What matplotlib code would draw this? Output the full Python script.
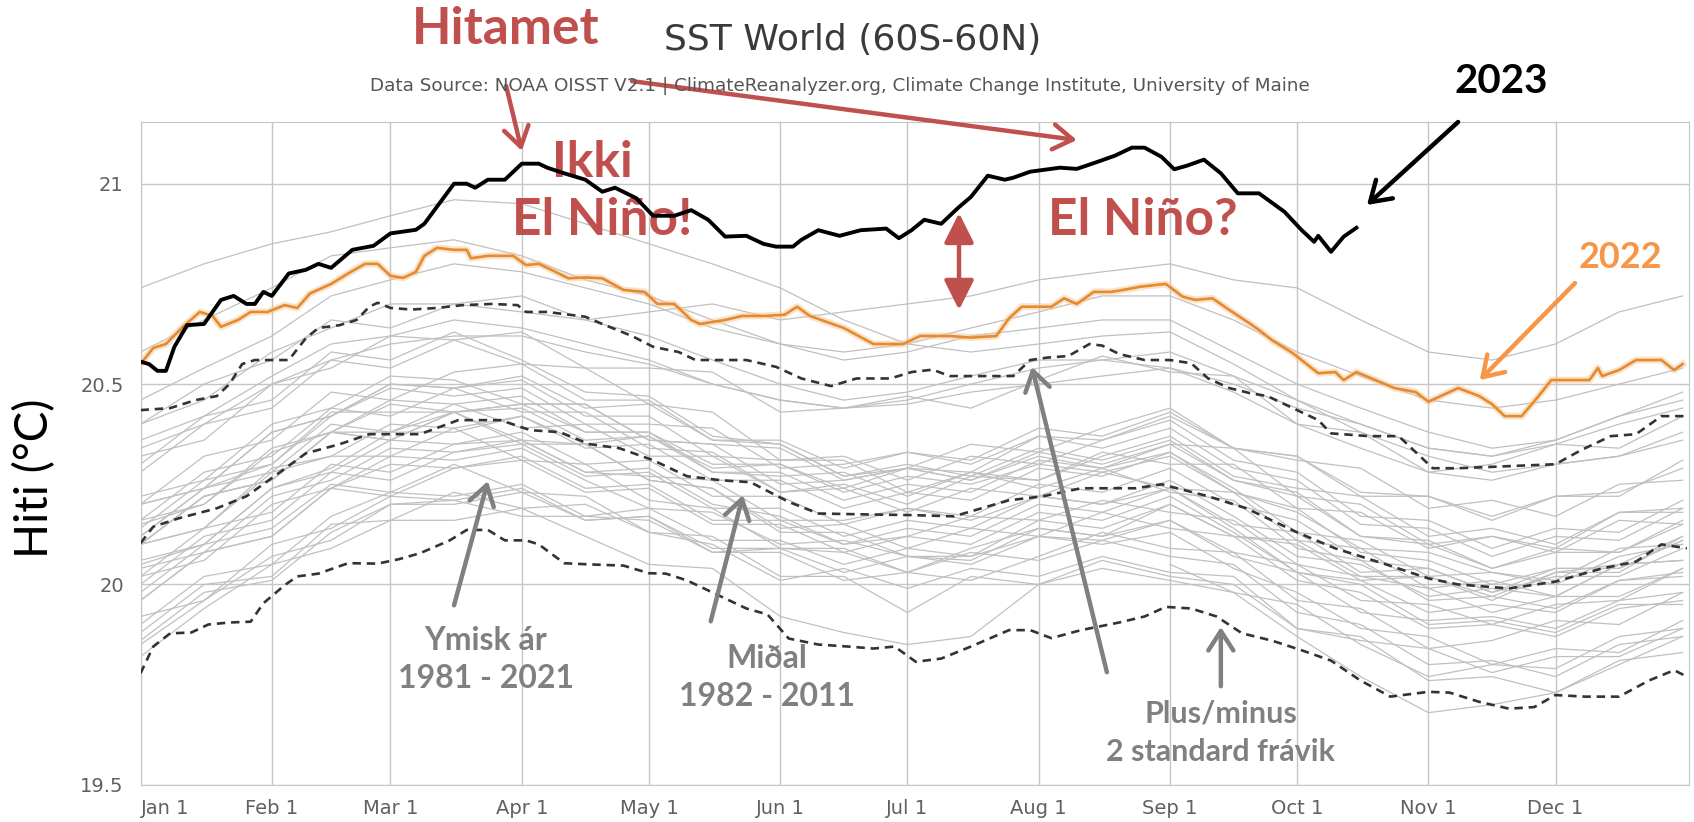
import numpy as np
import matplotlib.pyplot as plt

# ---- data (day of year, deg C) ----
month_days = [0, 31, 59, 90, 120, 151, 181, 212, 243, 273, 304, 334]
month_labels = ["Jan 1", "Feb 1", "Mar 1", "Apr 1", "May 1", "Jun 1",
                "Jul 1", "Aug 1", "Sep 1", "Oct 1", "Nov 1", "Dec 1"]

days_2023 = [0, 2, 4, 6, 8, 11, 15, 19, 22, 25, 27, 29, 31, 35, 39, 42, 45, 50, 55, 59,
             65, 67, 70, 74, 77, 79, 82, 86, 90, 94, 96, 100, 105, 109, 112, 117, 121,
             126, 130, 134, 138, 143, 147, 150, 154, 156, 160, 165, 170, 176, 179, 182,
             185, 189, 193, 196, 200, 204, 206, 210, 217, 221, 226, 230, 234, 237, 241,
             244, 247, 251, 255, 259, 264, 270, 274, 277, 278, 281, 284, 287]
sst_2023 = [20.556, 20.55, 20.533, 20.533, 20.593, 20.647, 20.65, 20.71, 20.72, 20.70,
            20.70, 20.73, 20.72, 20.776, 20.785, 20.80, 20.79, 20.835, 20.845, 20.876,
            20.885, 20.90, 20.943, 21.00, 21.00, 20.99, 21.01, 21.01, 21.05, 21.05,
            21.04, 21.026, 21.01, 20.98, 20.99, 20.964, 20.92, 20.92, 20.934, 20.91,
            20.868, 20.87, 20.85, 20.843, 20.843, 20.86, 20.884, 20.87, 20.884, 20.888,
            20.864, 20.884, 20.91, 20.90, 20.94, 20.967, 21.02, 21.01, 21.015, 21.03,
            21.04, 21.037, 21.055, 21.07, 21.09, 21.09, 21.067, 21.036, 21.045, 21.06,
            21.026, 20.976, 20.976, 20.93, 20.885, 20.855, 20.87, 20.83, 20.868, 20.89]

days_2022 = [0, 3, 6, 10, 14, 17, 19, 23, 26, 30, 34, 37, 40, 45, 49, 53, 56, 59, 62, 65,
             67, 70, 74, 77, 78, 82, 88, 91, 94, 97, 101, 105, 109, 114, 119, 122, 126,
             130, 132, 138, 142, 147, 152, 155, 158, 162, 166, 173, 176, 180, 184, 191,
             196, 202, 205, 208, 215, 218, 221, 225, 229, 232, 236, 242, 246, 249, 253,
             257, 262, 264, 267, 272, 278, 282, 284, 287, 296, 301, 304, 311, 316, 319,
             322, 326, 330, 333, 335, 342, 344, 345, 349, 353, 359, 362, 364]
sst_2022 = [20.55, 20.59, 20.60, 20.643, 20.68, 20.67, 20.643, 20.66, 20.68, 20.68,
            20.697, 20.69, 20.726, 20.75, 20.776, 20.80, 20.80, 20.77, 20.765, 20.78,
            20.82, 20.84, 20.835, 20.835, 20.814, 20.82, 20.82, 20.797, 20.80, 20.785,
            20.764, 20.766, 20.764, 20.735, 20.73, 20.70, 20.70, 20.66, 20.65, 20.66,
            20.67, 20.67, 20.673, 20.693, 20.67, 20.655, 20.64, 20.60, 20.60, 20.60,
            20.62, 20.62, 20.616, 20.62, 20.664, 20.693, 20.693, 20.714, 20.70, 20.73,
            20.73, 20.735, 20.743, 20.75, 20.718, 20.71, 20.714, 20.685, 20.65, 20.635,
            20.61, 20.577, 20.527, 20.53, 20.51, 20.53, 20.49, 20.48, 20.456, 20.49,
            20.47, 20.45, 20.42, 20.42, 20.47, 20.51, 20.51, 20.51, 20.54, 20.52,
            20.535, 20.56, 20.56, 20.535, 20.55]

days_mean = [0, 3, 9, 18, 25, 32, 39, 47, 54, 66, 75, 85, 92, 99, 106, 113, 121, 129,
             137, 144, 153, 160, 170, 182, 192, 205, 213, 222, 235, 241, 252, 261, 273,
             282, 294, 304, 311, 323, 334, 345, 353, 359, 365]
sst_mean = [20.103, 20.144, 20.165, 20.19, 20.22, 20.273, 20.327, 20.35, 20.375, 20.375,
            20.41, 20.41, 20.385, 20.38, 20.35, 20.34, 20.31, 20.27, 20.26, 20.255,
            20.206, 20.177, 20.175, 20.173, 20.17, 20.21, 20.22, 20.24, 20.24, 20.25,
            20.22, 20.19, 20.13, 20.09, 20.05, 20.015, 20.00, 19.99, 20.007, 20.04,
            20.057, 20.10, 20.09]

days_plus = [0, 7, 13, 18, 21, 24, 27, 35, 39, 42, 47, 51, 54, 56, 59, 64, 70, 76, 83,
             89, 91, 96, 105, 109, 116, 121, 127, 131, 138, 143, 150, 156, 163, 169, 177,
             182, 187, 191, 200, 206, 210, 214, 219, 224, 227, 231, 237, 243, 248, 252,
             257, 262, 266, 272, 278, 281, 290, 297, 300, 305, 311, 334, 340, 347, 353,
             359, 365]
sst_plus = [20.435, 20.44, 20.46, 20.47, 20.50, 20.55, 20.56, 20.56, 20.614, 20.64,
            20.647, 20.66, 20.693, 20.703, 20.69, 20.686, 20.69, 20.697, 20.70, 20.697,
            20.68, 20.68, 20.668, 20.65, 20.62, 20.593, 20.58, 20.56, 20.56, 20.56,
            20.543, 20.514, 20.495, 20.514, 20.514, 20.53, 20.536, 20.52, 20.52, 20.52,
            20.56, 20.566, 20.57, 20.60, 20.596, 20.575, 20.56, 20.56, 20.552, 20.514,
            20.49, 20.477, 20.47, 20.44, 20.41, 20.377, 20.37, 20.37, 20.34, 20.29,
            20.29, 20.30, 20.335, 20.37, 20.375, 20.42, 20.42]

days_minus = [0, 3, 7, 12, 16, 21, 26, 29, 34, 37, 42, 49, 56, 61, 66, 73, 77, 82, 86,
              91, 94, 100, 106, 114, 120, 124, 129, 133, 137, 143, 148, 153, 160, 167,
              173, 178, 183, 189, 196, 205, 210, 215, 222, 231, 237, 242, 248, 254, 260,
              267, 274, 281, 288, 295, 304, 309, 316, 323, 329, 334, 341, 349, 356, 362,
              365]
sst_minus = [19.778, 19.845, 19.878, 19.88, 19.90, 19.905, 19.907, 19.953, 19.998, 20.02,
             20.027, 20.053, 20.052, 20.063, 20.078, 20.11, 20.136, 20.136, 20.11, 20.11,
             20.10, 20.053, 20.05, 20.047, 20.028, 20.027, 20.01, 19.99, 19.97, 19.94,
             19.925, 19.865, 19.85, 19.845, 19.84, 19.845, 19.807, 19.815, 19.845,
             19.886, 19.886, 19.866, 19.886, 19.905, 19.92, 19.944, 19.94, 19.92, 19.878,
             19.86, 19.836, 19.81, 19.76, 19.72, 19.732, 19.73, 19.707, 19.69, 19.694,
             19.724, 19.72, 19.72, 19.76, 19.786, 19.77]

# other years 1981-2021, estimated about every 15 days
days_years = [0, 15, 31, 45, 59, 74, 90, 105, 120, 135, 151, 166, 181, 196, 212, 227,
              243, 258, 273, 288, 304, 319, 334, 349, 364]
sst_years = [
    [None] * 16 + [20.05, 19.98, 19.95, 19.85, 19.77, 19.80, 19.79, 19.87, 19.89],
    [19.85, 19.96, 20.07, 20.11, 20.20, 20.21, 20.17, 20.17, 20.16, 20.08, 20.09, 20.08, 20.03, 20.09, 20.14, 20.12, 20.20, 20.12, 20.11, 20.02, 20.02, 19.97, 20.03, 20.05, 20.12],
    [20.15, 20.20, 20.33, 20.38, 20.38, 20.43, 20.36, 20.35, 20.26, 20.24, 20.13, 20.13, 20.07, 20.07, 20.12, 20.10, 20.13, 20.04, 19.98, 19.89, 19.87, 19.80, 19.84, 19.83, 19.91],
    [19.88, 20.00, 20.02, 20.15, 20.16, 20.23, 20.19, 20.20, 20.13, 20.10, 20.01, 20.04, 19.99, 20.04, 20.02, 20.07, 20.03, 20.02, 19.89, 19.87, 19.76, 19.77, 19.73, 19.81, 19.83],
    [19.82, 19.94, 20.05, 20.09, 20.16, 20.16, 20.19, 20.12, 20.05, 20.04, 19.92, 19.88, 19.85, 19.87, 20.00, 20.04, 20.01, 19.98, 19.87, 19.77, 19.68, 19.70, 19.73, 19.80, 19.87],
    [19.90, 20.02, 20.05, 20.17, 20.23, 20.22, 20.25, 20.17, 20.19, 20.11, 20.11, 20.05, 20.09, 20.07, 20.16, 20.14, 20.20, 20.12, 20.10, 20.01, 20.02, 19.96, 20.03, 20.03, 20.12],
    [20.12, 20.24, 20.30, 20.43, 20.43, 20.43, 20.45, 20.38, 20.38, 20.30, 20.30, 20.23, 20.27, 20.25, 20.30, 20.28, 20.32, 20.23, 20.18, 20.09, 20.08, 20.03, 20.01, 20.09, 20.10],
    [20.10, 20.14, 20.29, 20.32, 20.32, 20.39, 20.31, 20.30, 20.21, 20.19, 20.09, 20.09, 20.03, 20.08, 20.06, 20.11, 20.07, 20.05, 19.93, 19.90, 19.80, 19.81, 19.77, 19.85, 19.87],
    [19.86, 19.98, 20.01, 20.13, 20.20, 20.20, 20.23, 20.16, 20.17, 20.09, 20.09, 20.03, 20.07, 20.06, 20.14, 20.12, 20.16, 20.07, 20.03, 19.93, 19.91, 19.92, 19.89, 19.96, 19.98],
    [20.04, 20.08, 20.22, 20.26, 20.34, 20.33, 20.36, 20.28, 20.29, 20.20, 20.17, 20.10, 20.12, 20.17, 20.16, 20.21, 20.18, 20.16, 20.05, 20.02, 19.99, 19.93, 19.97, 19.97, 20.04],
    [20.02, 20.14, 20.18, 20.30, 20.28, 20.35, 20.36, 20.28, 20.27, 20.26, 20.16, 20.16, 20.19, 20.16, 20.22, 20.20, 20.24, 20.14, 20.03, 20.00, 19.90, 19.91, 19.88, 19.95, 19.95],
    [19.98, 20.10, 20.14, 20.25, 20.23, 20.30, 20.23, 20.22, 20.13, 20.12, 20.02, 20.02, 19.93, 20.02, 20.00, 20.06, 20.02, 20.00, 19.89, 19.86, 19.84, 19.78, 19.82, 19.82, 19.89],
    [19.92, 19.96, 20.10, 20.14, 20.22, 20.21, 20.24, 20.16, 20.17, 20.08, 20.08, 20.01, 20.03, 20.01, 20.07, 20.13, 20.09, 20.08, 19.96, 19.94, 19.84, 19.86, 19.91, 19.90, 19.98],
    [19.96, 20.08, 20.12, 20.24, 20.30, 20.29, 20.32, 20.24, 20.25, 20.16, 20.16, 20.10, 20.14, 20.12, 20.20, 20.18, 20.24, 20.15, 20.13, 20.03, 20.04, 19.98, 20.04, 20.04, 20.11],
    [20.10, 20.22, 20.26, 20.38, 20.36, 20.43, 20.35, 20.35, 20.26, 20.24, 20.14, 20.15, 20.09, 20.14, 20.12, 20.18, 20.14, 20.12, 20.01, 19.98, 19.89, 19.90, 19.87, 19.94, 19.96],
    [19.96, 20.08, 20.12, 20.24, 20.22, 20.29, 20.31, 20.23, 20.24, 20.15, 20.15, 20.08, 20.12, 20.10, 20.18, 20.16, 20.22, 20.13, 20.03, 20.01, 19.93, 19.95, 19.93, 20.01, 20.02],
    [20.05, 20.10, 20.24, 20.29, 20.38, 20.38, 20.42, 20.35, 20.37, 20.29, 20.30, 20.24, 20.29, 20.28, 20.37, 20.36, 20.42, 20.34, 20.32, 20.23, 20.22, 20.17, 20.22, 20.23, 20.29],
    [20.32, 20.36, 20.50, 20.54, 20.62, 20.61, 20.55, 20.54, 20.45, 20.43, 20.31, 20.31, 20.23, 20.28, 20.24, 20.29, 20.23, 20.21, 20.09, 20.06, 19.96, 19.97, 19.94, 20.01, 20.03],
    [20.02, 20.06, 20.20, 20.24, 20.32, 20.31, 20.34, 20.26, 20.19, 20.18, 20.10, 20.11, 20.07, 20.05, 20.12, 20.11, 20.16, 20.08, 20.05, 19.96, 19.95, 19.90, 19.95, 19.96, 20.04],
    [20.00, 20.12, 20.16, 20.28, 20.26, 20.33, 20.35, 20.27, 20.28, 20.19, 20.19, 20.12, 20.16, 20.14, 20.22, 20.20, 20.26, 20.17, 20.07, 20.05, 19.97, 19.99, 19.97, 20.05, 20.06],
    [20.10, 20.22, 20.26, 20.38, 20.36, 20.43, 20.44, 20.36, 20.37, 20.28, 20.28, 20.21, 20.25, 20.23, 20.31, 20.29, 20.35, 20.26, 20.22, 20.12, 20.10, 20.04, 20.08, 20.08, 20.15],
    [20.16, 20.28, 20.32, 20.44, 20.42, 20.49, 20.51, 20.42, 20.42, 20.32, 20.31, 20.32, 20.26, 20.32, 20.30, 20.36, 20.41, 20.31, 20.28, 20.17, 20.16, 20.09, 20.14, 20.13, 20.21],
    [20.22, 20.26, 20.40, 20.44, 20.52, 20.51, 20.45, 20.45, 20.36, 20.35, 20.25, 20.26, 20.29, 20.26, 20.33, 20.30, 20.35, 20.34, 20.22, 20.20, 20.10, 20.12, 20.08, 20.16, 20.15],
    [20.16, 20.20, 20.34, 20.38, 20.46, 20.45, 20.39, 20.40, 20.32, 20.32, 20.23, 20.25, 20.20, 20.27, 20.26, 20.33, 20.30, 20.30, 20.19, 20.18, 20.09, 20.12, 20.09, 20.18, 20.18],
    [20.20, 20.32, 20.36, 20.48, 20.46, 20.53, 20.55, 20.46, 20.46, 20.36, 20.35, 20.27, 20.30, 20.27, 20.34, 20.31, 20.36, 20.26, 20.23, 20.12, 20.11, 20.04, 20.09, 20.08, 20.16],
    [20.12, 20.24, 20.28, 20.40, 20.38, 20.45, 20.47, 20.38, 20.38, 20.28, 20.27, 20.28, 20.22, 20.28, 20.26, 20.32, 20.37, 20.27, 20.24, 20.22, 20.12, 20.14, 20.10, 20.18, 20.19],
    [20.20, 20.24, 20.38, 20.42, 20.50, 20.49, 20.43, 20.43, 20.34, 20.33, 20.23, 20.24, 20.18, 20.24, 20.22, 20.28, 20.24, 20.23, 20.11, 20.09, 19.99, 20.01, 19.97, 20.05, 20.06],
    [20.06, 20.10, 20.24, 20.28, 20.36, 20.35, 20.38, 20.30, 20.31, 20.22, 20.22, 20.15, 20.19, 20.17, 20.25, 20.23, 20.29, 20.20, 20.16, 20.06, 20.04, 19.98, 20.02, 20.02, 20.09],
    [20.10, 20.22, 20.26, 20.38, 20.45, 20.43, 20.45, 20.45, 20.36, 20.35, 20.34, 20.26, 20.29, 20.35, 20.33, 20.39, 20.44, 20.34, 20.31, 20.29, 20.19, 20.21, 20.17, 20.25, 20.26],
    [20.30, 20.42, 20.46, 20.58, 20.56, 20.63, 20.56, 20.48, 20.47, 20.37, 20.35, 20.27, 20.29, 20.26, 20.32, 20.29, 20.33, 20.23, 20.19, 20.08, 20.06, 20.00, 20.04, 20.04, 20.11],
    [20.10, 20.14, 20.28, 20.32, 20.40, 20.39, 20.42, 20.34, 20.35, 20.26, 20.26, 20.19, 20.23, 20.21, 20.29, 20.27, 20.33, 20.24, 20.13, 20.11, 20.02, 20.03, 20.00, 20.07, 20.10],
    [20.14, 20.26, 20.30, 20.42, 20.49, 20.47, 20.49, 20.40, 20.40, 20.39, 20.29, 20.30, 20.33, 20.30, 20.37, 20.34, 20.39, 20.29, 20.26, 20.15, 20.14, 20.07, 20.12, 20.11, 20.19],
    [20.20, 20.24, 20.38, 20.42, 20.50, 20.49, 20.52, 20.44, 20.45, 20.36, 20.36, 20.29, 20.33, 20.31, 20.39, 20.37, 20.43, 20.34, 20.32, 20.22, 20.22, 20.16, 20.22, 20.22, 20.31],
    [20.28, 20.40, 20.44, 20.56, 20.54, 20.61, 20.63, 20.54, 20.54, 20.53, 20.43, 20.44, 20.47, 20.44, 20.51, 20.57, 20.53, 20.52, 20.40, 20.38, 20.28, 20.30, 20.35, 20.34, 20.42],
    [20.40, 20.50, 20.56, 20.66, 20.64, 20.70, 20.72, 20.66, 20.68, 20.70, 20.66, 20.68, 20.70, 20.72, 20.76, 20.78, 20.80, 20.76, 20.74, 20.66, 20.58, 20.56, 20.60, 20.68, 20.72],
    [20.74, 20.80, 20.85, 20.88, 20.92, 20.96, 20.95, 20.90, 20.85, 20.80, 20.74, 20.66, 20.60, 20.58, 20.60, 20.62, 20.63, 20.55, 20.46, 20.38, 20.32, 20.28, 20.30, 20.32, 20.36],
    [20.40, 20.46, 20.58, 20.64, 20.70, 20.70, 20.68, 20.66, 20.62, 20.56, 20.50, 20.46, 20.48, 20.52, 20.56, 20.56, 20.54, 20.48, 20.40, 20.34, 20.28, 20.26, 20.30, 20.32, 20.38],
    [20.34, 20.40, 20.50, 20.56, 20.60, 20.62, 20.62, 20.58, 20.55, 20.50, 20.46, 20.44, 20.45, 20.48, 20.50, 20.52, 20.54, 20.50, 20.44, 20.40, 20.34, 20.32, 20.35, 20.40, 20.44],
    [20.46, 20.54, 20.62, 20.72, 20.76, 20.80, 20.78, 20.74, 20.70, 20.64, 20.60, 20.58, 20.60, 20.64, 20.68, 20.72, 20.72, 20.66, 20.58, 20.52, 20.46, 20.44, 20.46, 20.50, 20.54],
    [20.58, 20.66, 20.74, 20.82, 20.84, 20.86, 20.82, 20.76, 20.72, 20.66, 20.60, 20.56, 20.58, 20.62, 20.64, 20.66, 20.66, 20.58, 20.50, 20.44, 20.38, 20.34, 20.36, 20.42, 20.46],
    [20.36, 20.42, 20.52, 20.60, 20.62, 20.66, 20.64, 20.60, 20.56, 20.50, 20.46, 20.44, 20.46, 20.50, 20.54, 20.56, 20.58, 20.52, 20.46, 20.40, 20.34, 20.32, 20.36, 20.42, 20.48],
]

# ---- figure ----
W, H = 1694, 822
fig = plt.figure(figsize=(W / 100, H / 100), dpi=100)
ax = fig.add_axes([140.5 / W, 1 - 784.8 / H, (1689 - 140.5) / W, (784.8 - 122) / H])

for row in sst_years:
    ax.plot(days_years, np.array(row, dtype=float), color="#c0c0c0", lw=0.9, zorder=2)

dash = (0, (3.2, 2.2))
ax.plot(days_plus, sst_plus, color="#333333", lw=1.9, ls=dash, zorder=3)
ax.plot(days_mean, sst_mean, color="#333333", lw=1.9, ls=dash, zorder=3)
ax.plot(days_minus, sst_minus, color="#333333", lw=1.9, ls=dash, zorder=3)

ax.plot(days_2022, sst_2022, color="#f6c99a", lw=5, alpha=0.5, zorder=4)
ax.plot(days_2022, sst_2022, color="#e58a2e", lw=1.9, zorder=5)
ax.plot(days_2023, sst_2023, color="black", lw=2.8, zorder=6)

ax.set_xlim(0, 365.5)
ax.set_ylim(19.5, 21.154)
ax.set_xticks(month_days)
ax.set_xticklabels(month_labels)
ax.get_xticklabels()[0].set_horizontalalignment("left")
ax.set_yticks([19.5, 20, 20.5, 21])
ax.set_yticklabels(["19.5", "20", "20.5", "21"])
ax.grid(True, color="#c6c6c6", lw=1, zorder=0)
ax.set_axisbelow(True)
ax.tick_params(length=0, labelcolor="#606060", labelsize=14)
ax.tick_params(axis="y", pad=12)
ax.tick_params(axis="x", pad=10)
for s in ax.spines.values():
    s.set_color("#c6c6c6")

fig.text(853 / W, 1 - 40 / H, "SST World (60S-60N)", ha="center", va="center",
         fontsize=26, color="#3a3a3a")
fig.text(840 / W, 1 - 86 / H,
         "Data Source: NOAA OISST V2.1 | ClimateReanalyzer.org, Climate Change Institute, University of Maine",
         ha="center", va="center", fontsize=13.2, color="#555555")
fig.text(35 / W, 1 - 478 / H, "Hiti (°C)", rotation=90, ha="center", va="center",
         fontsize=33, family="Lato", color="black")

# ---- annotations ----
red = "#c0504d"
grey = "#808080"
orange = "#f79646"
bold = dict(family="Lato", fontweight="bold", ha="center", va="center", annotation_clip=False)


def arrow(tail, head, color, lw=3.2, style="->,head_length=0.7,head_width=0.45"):
    ax.annotate("", xy=head, xytext=tail, annotation_clip=False,
                arrowprops=dict(arrowstyle=style, color=color, lw=lw,
                                mutation_scale=20, shrinkA=0, shrinkB=0))


ax.annotate("Hitamet", xy=(86.3, 21.384), color=red, fontsize=37, **bold)
arrow((86.3, 21.244), (90.0, 21.082), red)
arrow((116, 21.256), (221, 21.109), red)
ax.annotate("Ikki", xy=(106.6, 21.054), color=red, fontsize=36, **bold)
ax.annotate("El Niño!", xy=(108.9, 20.907), color=red, fontsize=37, **bold)
ax.annotate("El Niño?", xy=(236.6, 20.907), color=red, fontsize=37, **bold)
arrow((193.2, 20.685), (193.2, 20.927), red, lw=3.2,
      style="<|-|>,head_length=0.9,head_width=0.45")

ax.annotate("2023", xy=(321.3, 21.256), color="black", fontsize=29, **bold)
arrow((311, 21.154), (289.5, 20.947), "black")
ax.annotate("2022", xy=(349.4, 20.817), color=orange, fontsize=26, **bold)
arrow((338.6, 20.752), (316.1, 20.51), orange)

ax.annotate("Ymisk ár\n1981 - 2021", xy=(81.5, 19.813), color=grey, fontsize=23,
            linespacing=1.4, **bold)
arrow((74, 19.948), (82, 20.258), grey)
ax.annotate("Miðal\n1982 - 2011", xy=(147.9, 19.768), color=grey, fontsize=23,
            linespacing=1.4, **bold)
arrow((134.6, 19.908), (142.2, 20.223), grey)
ax.annotate("Plus/minus\n2 standard frávik", xy=(255, 19.629), color=grey, fontsize=22,
            linespacing=1.45, **bold)
arrow((228.1, 19.781), (210.4, 20.543), grey)
arrow((255, 19.746), (255, 19.894), grey)

fig.savefig("out.png", dpi=100)
